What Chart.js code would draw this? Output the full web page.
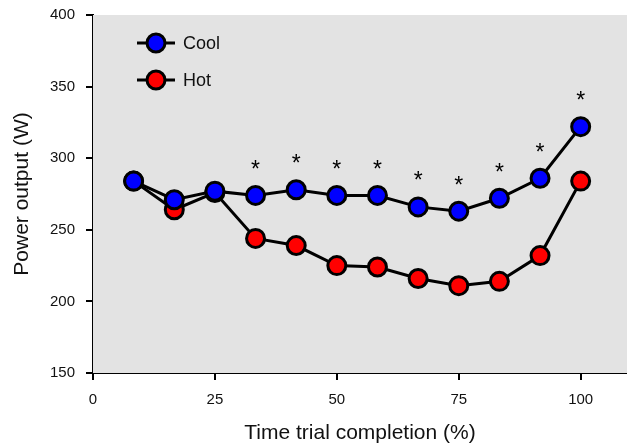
<!DOCTYPE html>
<html>
<head>
<meta charset="utf-8">
<script src="https://cdn.jsdelivr.net/npm/chart.js@4"></script>
<style>
  html, body { margin: 0; padding: 0; background: #fff; }
  #wrap { width: 627px; height: 446px; }
</style>
</head>
<body>
<div id="wrap"><canvas id="powerChart"></canvas></div>
<script>
const completion = [8.33, 16.67, 25, 33.33, 41.67, 50, 58.33, 66.67, 75, 83.33, 91.67, 100];
const coolPower = [284, 271, 277, 274, 278, 274, 274, 266, 263, 272, 286, 322];
const hotPower = [284, 264, 276, 244, 239, 225, 224, 216, 211, 214, 232, 284];
const significant = [false, false, false, true, true, true, true, true, true, true, true, true];
const xTicks = [0, 25, 50, 75, 100];
const yTicks = [150, 200, 250, 300, 350, 400];

const FONT = 'Liberation Sans, Arial, sans-serif';

const toPoints = (values) => values.map((v, i) => ({ x: completion[i], y: v }));

// gray panel behind the data
const plotBackground = {
    id: 'plotBackground',
    beforeDatasetsDraw(chart) {
        const { ctx, chartArea: { left, top, right, bottom } } = chart;
        ctx.save();
        ctx.fillStyle = '#e3e3e3';
        ctx.fillRect(left, top, right - left, bottom - top);
        ctx.restore();
    }
};

// asterisks over the cool points + legend in the top left corner
const markers = {
    id: 'markers',
    afterDatasetsDraw(chart) {
        const { ctx, scales: { x, y } } = chart;
        ctx.save();
        ctx.fillStyle = 'black';
        ctx.font = '23px ' + FONT;
        ctx.textAlign = 'center';
        ctx.textBaseline = 'middle';
        significant.forEach((sig, i) => {
            if (!sig) return;
            ctx.fillText('*', x.getPixelForValue(completion[i]), y.getPixelForValue(coolPower[i]) - 25);
        });

        const items = [
            { label: 'Cool', color: '#0000ff' },
            { label: 'Hot', color: '#ff0000' },
        ];
        items.forEach((item, i) => {
            const cy = 43 + i * 37;
            ctx.beginPath();
            ctx.lineWidth = 3;
            ctx.strokeStyle = 'black';
            ctx.moveTo(137, cy);
            ctx.lineTo(175, cy);
            ctx.stroke();
            ctx.beginPath();
            ctx.arc(156, cy, 9, 0, Math.PI * 2);
            ctx.fillStyle = item.color;
            ctx.fill();
            ctx.stroke();
            ctx.fillStyle = '#111';
            ctx.font = '18px ' + FONT;
            ctx.textAlign = 'left';
            ctx.fillText(item.label, 183, cy + 1);
        });
        ctx.restore();
    }
};

const config = {
    type: 'line',
    plugins: [plotBackground, markers],
    data: {
        datasets: [
            {
                label: 'Cool',
                data: toPoints(coolPower),
                borderColor: 'black',
                borderWidth: 3,
                pointBackgroundColor: '#0000ff',
                pointBorderColor: 'black',
                pointBorderWidth: 3,
                pointRadius: 9,
            },
            {
                label: 'Hot',
                data: toPoints(hotPower),
                borderColor: 'black',
                borderWidth: 3,
                pointBackgroundColor: '#ff0000',
                pointBorderColor: 'black',
                pointBorderWidth: 3,
                pointRadius: 9,
            }
        ]
    },
    options: {
        responsive: true,
        maintainAspectRatio: false,
        animation: false,
        layout: { autoPadding: false, padding: { top: 15, right: 0, left: 0, bottom: 0 } },
        plugins: {
            legend: { display: false },
            tooltip: { enabled: false },
        },
        scales: {
            x: {
                type: 'linear',
                min: 0,
                max: 109.5,
                afterBuildTicks: (scale) => { scale.ticks = xTicks.map(v => ({ value: v })); },
                afterFit: (scale) => { scale.height = 73; scale.paddingLeft = 0; scale.paddingRight = 0; },
                border: { display: true, color: 'black', width: 2 },
                grid: { drawOnChartArea: false, drawTicks: true, tickLength: 7, color: 'black', lineWidth: 2 },
                ticks: { color: '#111', font: { family: FONT, size: 15 }, padding: 11, maxRotation: 0 },
                title: { display: true, text: 'Time trial completion (%)', color: '#111', font: { family: FONT, size: 21 }, padding: { top: 0, bottom: 0 } },
            },
            y: {
                min: 150,
                max: 400,
                afterBuildTicks: (scale) => { scale.ticks = yTicks.map(v => ({ value: v })); },
                afterFit: (scale) => { scale.width = 93; scale.paddingTop = 0; scale.paddingBottom = 0; },
                border: { display: true, color: 'black', width: 2 },
                grid: { drawOnChartArea: false, drawTicks: true, tickLength: 7, color: 'black', lineWidth: 2 },
                ticks: { color: '#111', font: { family: FONT, size: 15 }, padding: 11 },
                title: { display: true, text: 'Power output (W)', color: '#111', font: { family: FONT, size: 21 }, padding: { top: 10, bottom: 9 } },
            }
        }
    }
};

const powerChart = new Chart(document.getElementById('powerChart'), config);
</script>
</body>
</html>
